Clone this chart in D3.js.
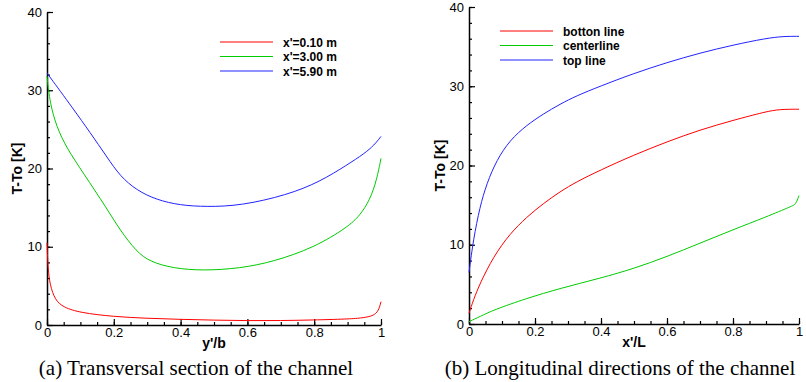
<!DOCTYPE html>
<html>
<head>
<meta charset="utf-8">
<script src="https://cdn.jsdelivr.net/npm/d3@7"></script>
<style>
  body { margin: 0; background: #fff; }
  svg { display: block; }
  .tick text { font-family: "Liberation Sans", Arial, sans-serif; font-size: 13px; fill: #000; }
</style>
</head>
<body>
<script>
// ---- data ----
// (a) transversal section, x = y'/b
const ybA = [0, 0.003, 0.009, 0.024, 0.049, 0.099, 0.199, 0.3, 0.398, 0.5, 0.598, 0.7, 0.797, 0.9, 0.94, 0.97, 0.985, 0.994, 1.0];
const xp010 = [10.5, 7.2, 5.1, 3.2, 2.26, 1.57, 1.07, 0.85, 0.72, 0.62, 0.55, 0.56, 0.64, 0.76, 0.88, 1.1, 1.45, 2.0, 2.98];

const ybG = [0, 0.009, 0.029, 0.059, 0.109, 0.179, 0.219, 0.268, 0.308, 0.378, 0.468, 0.578, 0.678, 0.8, 0.9, 0.937, 0.967, 0.987, 1.0];
const xp300 = [31.8, 28.3, 25.3, 22.6, 19.4, 14.9, 12.1, 9.37, 8.09, 7.24, 6.94, 7.24, 8.09, 9.9, 12.5, 14.0, 16.0, 18.5, 21.3];

const ybB = [0, 0.079, 0.129, 0.179, 0.219, 0.269, 0.328, 0.398, 0.478, 0.58, 0.718, 0.817, 0.9, 0.95, 0.98, 1.0];
const xp590 = [32.2, 27.6, 24.6, 21.5, 19.0, 17.2, 16.0, 15.3, 15.1, 15.25, 16.6, 18.3, 20.5, 21.9, 23.0, 24.1];

// (b) longitudinal directions, x = x'/L
const xlB = [0, 0.013, 0.033, 0.054, 0.084, 0.124, 0.175, 0.225, 0.276, 0.326, 0.397, 0.498, 0.6, 0.7, 0.8, 0.9, 0.952, 1.0];
const topLine = [6.5, 10.6, 14.8, 17.75, 20.7, 23.2, 25.1, 26.5, 27.75, 28.8, 30.0, 31.6, 33.0, 34.2, 35.2, 36.05, 36.3, 36.3];

const xlR = [0, 0.013, 0.033, 0.074, 0.124, 0.175, 0.225, 0.276, 0.326, 0.397, 0.498, 0.6, 0.7, 0.8, 0.9, 0.942, 1.0];
const bottonLine = [1.35, 3.0, 5.1, 8.5, 11.4, 13.5, 15.2, 16.7, 17.95, 19.4, 21.3, 23.0, 24.5, 25.7, 26.8, 27.1, 27.1];

const xlG = [0, 0.033, 0.074, 0.175, 0.276, 0.4, 0.5, 0.6, 0.7, 0.8, 0.9, 0.98, 0.99, 1.0];
const centerline = [0.3, 0.93, 1.77, 3.24, 4.5, 5.8, 7.0, 8.5, 10.2, 11.9, 13.5, 14.9, 15.1, 16.2];

const yTicks = [0, 10, 20, 30, 40];
const xTicks = [0, 0.2, 0.4, 0.6, 0.8, 1];

const panels = [
  {
    x0: 47, x1: 381, y0: 325, y1: 12,
    xTitle: "y'/b", yTitleX: 22,
    caption: "(a) Transversal section of the channel", capX: 196,
    series: [
      { name: "x'=0.10 m", color: "#ff0000", xs: ybA, values: xp010 },
      { name: "x'=3.00 m", color: "#00cc00", xs: ybG, values: xp300 },
      { name: "x'=5.90 m", color: "#2222ff", xs: ybB, values: xp590 }
    ],
    legX: 220, legY: 42
  },
  {
    x0: 469, x1: 799, y0: 324, y1: 7,
    xTitle: "x'/L", yTitleX: 445,
    caption: "(b) Longitudinal directions of the channel", capX: 620,
    series: [
      { name: "botton line", color: "#ff0000", xs: xlR, values: bottonLine },
      { name: "centerline", color: "#00cc00", xs: xlG, values: centerline },
      { name: "top line", color: "#2222ff", xs: xlB, values: topLine }
    ],
    legX: 500, legY: 31
  }
];

const svg = d3.select('body').append('svg')
  .attr('width', 806)
  .attr('height', 382);

panels.forEach(p => {
  const x = d3.scaleLinear().domain([0, 1]).range([p.x0, p.x1]);
  const y = d3.scaleLinear().domain([0, 40]).range([p.y0, p.y1]);
  const g = svg.append('g');

  // minor ticks
  g.append('g')
    .attr('transform', 'translate(0,' + p.y0 + ')')
    .call(d3.axisBottom(x).tickValues(d3.range(0, 1.001, 0.05)).tickSize(-3).tickFormat(''))
    .call(a => a.select('.domain').remove());
  g.append('g')
    .attr('transform', 'translate(' + p.x0 + ',0)')
    .call(d3.axisLeft(y).tickValues(d3.range(0, 40.1, 2)).tickSize(-3).tickFormat(''))
    .call(a => a.select('.domain').remove());

  // major ticks
  g.append('g')
    .attr('transform', 'translate(0,' + p.y0 + ')')
    .call(d3.axisBottom(x).tickValues(xTicks).tickSizeInner(-6).tickSizeOuter(0).tickPadding(3).tickFormat(d3.format('')))
    .call(a => a.select('.domain').attr('stroke-width', 1.5));
  g.append('g')
    .attr('transform', 'translate(' + p.x0 + ',0)')
    .call(d3.axisLeft(y).tickValues(yTicks).tickSizeInner(-6).tickSizeOuter(0).tickPadding(5))
    .call(a => a.select('.domain').attr('stroke-width', 1.5));

  g.selectAll('.tick line').attr('stroke-width', 1.2);

  // titles
  g.append('text')
    .attr('x', (p.x0 + p.x1) / 2).attr('y', p.y0 + 23)
    .attr('text-anchor', 'middle')
    .attr('font-family', '"Liberation Sans", Arial, sans-serif')
    .attr('font-weight', 'bold').attr('font-size', 14)
    .text(p.xTitle);
  g.append('text')
    .attr('transform', 'translate(' + p.yTitleX + ',' + ((p.y0 + p.y1) / 2) + ') rotate(-90)')
    .attr('text-anchor', 'middle')
    .attr('font-family', '"Liberation Sans", Arial, sans-serif')
    .attr('font-weight', 'bold').attr('font-size', 14)
    .text('T-To [K]');
  g.append('text')
    .attr('x', p.capX).attr('y', 375)
    .attr('text-anchor', 'middle')
    .attr('font-family', '"Liberation Serif", "Times New Roman", serif')
    .attr('font-size', 21)
    .text(p.caption);

  // lines
  p.series.forEach(s => {
    const line = d3.line()
      .x((d, i) => x(s.xs[i]))
      .y(d => y(d))
      .curve(d3.curveBasis);
    g.append('path')
      .datum(s.values)
      .attr('fill', 'none')
      .attr('stroke', s.color)
      .attr('stroke-width', 1)
      .attr('d', line);
  });

  // legend
  const leg = g.append('g');
  p.series.forEach((s, i) => {
    const ly = p.legY + i * 14.5;
    leg.append('line')
      .attr('x1', p.legX).attr('x2', p.legX + 53)
      .attr('y1', ly).attr('y2', ly)
      .attr('stroke', s.color).attr('stroke-width', 1);
    leg.append('text')
      .attr('x', p.legX + 63).attr('y', ly + 4.5)
      .attr('font-family', '"Liberation Sans", Arial, sans-serif')
      .attr('font-weight', 'bold').attr('font-size', 12)
      .text(s.name);
  });
});
</script>
</body>
</html>
